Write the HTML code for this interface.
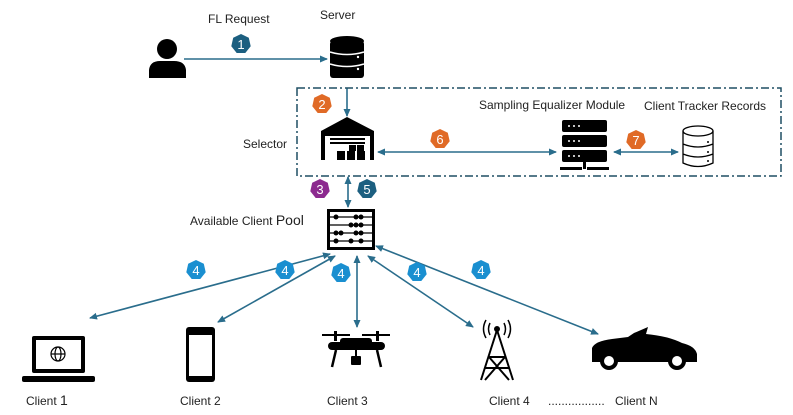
<!DOCTYPE html>
<html><head><style>
html,body{margin:0;padding:0;background:#fff}
svg{display:block}
text{font-family:"Liberation Sans",sans-serif;font-size:12px;fill:#222}
.b{font-size:13px;fill:#fff;text-anchor:middle}
</style></head><body>
<svg width="793" height="415" viewBox="0 0 793 415" xmlns="http://www.w3.org/2000/svg">
<defs>
<marker id="a" markerWidth="8" markerHeight="8" refX="7" refY="4" orient="auto-start-reverse" markerUnits="userSpaceOnUse"><path d="M0,0.5 L8,4 L0,7.5 z" fill="#2a6d8c"/></marker>
<g id="hep"><polygon points="0,-10 7.8,-6.2 9.7,2.2 4.3,9 -4.3,9 -9.7,2.2 -7.8,-6.2"/></g>
</defs>
<g stroke="#2a6d8c" stroke-width="1.6" fill="none">
<line x1="184" y1="59" x2="327" y2="59" marker-end="url(#a)"/>
<line x1="347" y1="88" x2="347" y2="116" marker-end="url(#a)"/>
<line x1="378" y1="152" x2="556" y2="152" marker-start="url(#a)" marker-end="url(#a)"/>
<line x1="614" y1="152" x2="678" y2="152" marker-start="url(#a)" marker-end="url(#a)"/>
<line x1="348" y1="177" x2="348" y2="207" marker-start="url(#a)" marker-end="url(#a)"/>
<line x1="330" y1="254" x2="90" y2="318" marker-start="url(#a)" marker-end="url(#a)"/>
<line x1="335" y1="256" x2="218" y2="322" marker-start="url(#a)" marker-end="url(#a)"/>
<line x1="357" y1="256" x2="357" y2="327" marker-start="url(#a)" marker-end="url(#a)"/>
<line x1="368" y1="256" x2="473" y2="327" marker-start="url(#a)" marker-end="url(#a)"/>
<line x1="376" y1="246" x2="598" y2="334" marker-start="url(#a)" marker-end="url(#a)"/>
</g>
<rect x="297" y="88" width="484" height="88" fill="none" stroke="#1f4f63" stroke-width="1.5" stroke-dasharray="8,3,2,3"/>
<g fill="#1c5f80"><use href="#hep" x="241" y="44"/><use href="#hep" x="367" y="189"/></g>
<g fill="#e06a26"><use href="#hep" x="322" y="104"/><use href="#hep" x="440" y="139"/><use href="#hep" x="636" y="140"/></g>
<g fill="#8c2a8f"><use href="#hep" x="320" y="189"/></g>
<g fill="#1a8fd0"><use href="#hep" x="196" y="270"/><use href="#hep" x="285" y="270"/><use href="#hep" x="341" y="273"/><use href="#hep" x="417" y="272"/><use href="#hep" x="481" y="270"/></g>
<text class="b" x="241" y="49">1</text><text class="b" x="322" y="109">2</text><text class="b" x="320" y="194">3</text><text class="b" x="367" y="194">5</text><text class="b" x="440" y="144">6</text><text class="b" x="636" y="145">7</text>
<text class="b" x="196" y="275">4</text><text class="b" x="285" y="275">4</text><text class="b" x="341" y="278">4</text><text class="b" x="417" y="277">4</text><text class="b" x="481" y="275">4</text>
<text x="208" y="23">FL Request</text>
<text x="320" y="19">Server</text>
<text x="243" y="148">Selector</text>
<text x="479" y="109">Sampling Equalizer Module</text>
<text x="644" y="110">Client Tracker Records</text>
<text x="190" y="225">Available Client <tspan font-size="14">Pool</tspan></text>
<text x="26" y="405">Client <tspan font-size="14">1</tspan></text>
<text x="180" y="405">Client 2</text>
<text x="327" y="405">Client 3</text>
<text x="489" y="405">Client 4</text>
<text x="548" y="405">.................</text>
<text x="615" y="405">Client N</text>
<circle cx="167" cy="49" r="10"/>
<path d="M149,78 L149,70 Q150,61 160,61 L174,61 Q185,61 186,70 L186,78 z"/>
<ellipse cx="347" cy="41" rx="17" ry="5"/>
<rect x="330" y="41" width="34" height="37" rx="3"/>
<path d="M330,52 Q347,57 364,52 M330,64 Q347,69 364,64" stroke="#fff" stroke-width="1.5" fill="none"/>
<circle cx="358" cy="57" r="1.2" fill="#fff"/><circle cx="358" cy="69" r="1.2" fill="#fff"/>
<path d="M321,131 L347,117 L374,131 L374,160 L370,160 L370,136 L325,136 L325,160 L321,160 z"/>
<rect x="330" y="138" width="35" height="2"/><rect x="330" y="142" width="35" height="2"/>
<rect x="337" y="151" width="8" height="9"/><rect x="347" y="151" width="8" height="9"/><rect x="357" y="151" width="8" height="9"/><rect x="349" y="145" width="7" height="6"/><rect x="357" y="145" width="7" height="6"/>
<rect x="562" y="120" width="45" height="12" rx="2"/><rect x="562" y="135" width="45" height="12" rx="2"/><rect x="562" y="150" width="45" height="12" rx="2"/>
<rect x="583" y="162" width="3" height="7"/><rect x="560" y="167" width="22" height="3"/><rect x="587" y="167" width="22" height="3"/>
<g fill="#fff"><circle cx="569" cy="126" r="1"/><circle cx="574" cy="126" r="1"/><circle cx="579" cy="126" r="1"/><circle cx="569" cy="141" r="1"/><circle cx="574" cy="141" r="1"/><circle cx="579" cy="141" r="1"/><circle cx="569" cy="156" r="1"/><circle cx="574" cy="156" r="1"/><circle cx="579" cy="156" r="1"/></g>
<g fill="none" stroke="#000" stroke-width="1.3">
<ellipse cx="698" cy="131" rx="15" ry="5"/>
<path d="M683,131 L683,163 Q698,170 713,163 L713,131 M683,144 Q698,150 713,144 M683,154 Q698,160 713,154"/>
</g>
<circle cx="708" cy="142" r="1"/><circle cx="708" cy="152" r="1"/><circle cx="708" cy="161" r="1"/>
<rect x="327" y="209" width="48" height="41" fill="#000"/>
<rect x="330" y="212" width="42" height="35" fill="#fff"/>
<g stroke="#000" stroke-width="1.3"><line x1="330" y1="217" x2="372" y2="217"/><line x1="330" y1="225" x2="372" y2="225"/><line x1="330" y1="233" x2="372" y2="233"/><line x1="330" y1="241" x2="372" y2="241"/></g>
<g><circle cx="336" cy="217" r="2.5"/><circle cx="356" cy="217" r="2.5"/><circle cx="361" cy="217" r="2.5"/><circle cx="351" cy="225" r="2.5"/><circle cx="356" cy="225" r="2.5"/><circle cx="361" cy="225" r="2.5"/><circle cx="336" cy="233" r="2.5"/><circle cx="341" cy="233" r="2.5"/><circle cx="356" cy="233" r="2.5"/><circle cx="361" cy="233" r="2.5"/><circle cx="336" cy="241" r="2.5"/><circle cx="351" cy="241" r="2.5"/><circle cx="361" cy="241" r="2.5"/></g>
<rect x="32" y="336" width="53" height="37" rx="2"/>
<rect x="36" y="340" width="45" height="29" fill="#fff"/>
<rect x="22" y="376" width="73" height="6" rx="2"/>
<g fill="none" stroke="#000" stroke-width="1.2"><circle cx="58" cy="354" r="7"/><ellipse cx="58" cy="354" rx="3" ry="7"/><line x1="51" y1="354" x2="65" y2="354"/></g>
<rect x="186" y="327" width="29" height="55" rx="3"/>
<rect x="189" y="335" width="23" height="41" fill="#fff"/>
<rect x="322" y="334" width="28" height="2"/><rect x="362" y="334" width="28" height="2"/>
<rect x="334" y="331" width="3" height="10"/><rect x="376" y="331" width="3" height="10"/>
<rect x="328" y="342" width="57" height="8" rx="4"/>
<rect x="340" y="338" width="32" height="10" rx="3"/>
<path d="M336,350 L332,367 M377,350 L381,367" stroke="#000" stroke-width="2.5"/>
<rect x="351" y="356" width="10" height="9" rx="1"/><rect x="355" y="350" width="2" height="6"/>
<g fill="none" stroke="#000" stroke-width="2">
<path d="M497,330 L481,380 M497,330 L513,380 M488,357 L506,357 M485,368 L509,368 M489,357 L509,380 M505,357 L485,380"/>
<path d="M490,323 Q487,329 490,335 M504,323 Q507,329 504,335 M486,320 Q481,329 486,338 M508,320 Q513,329 508,338" stroke-width="1.5"/>
</g>
<circle cx="497" cy="329" r="3"/>
<path d="M592,362 L592,348 Q595,341 612,339 L628,337 L634,333 L648,327 L646,334 Q668,336 682,343 Q695,346 697,354 L697,362 z"/>
<circle cx="609" cy="361" r="9"/><circle cx="609" cy="361" r="5" fill="#fff"/>
<circle cx="677" cy="361" r="9"/><circle cx="677" cy="361" r="5" fill="#fff"/>
</svg>
</body></html>
